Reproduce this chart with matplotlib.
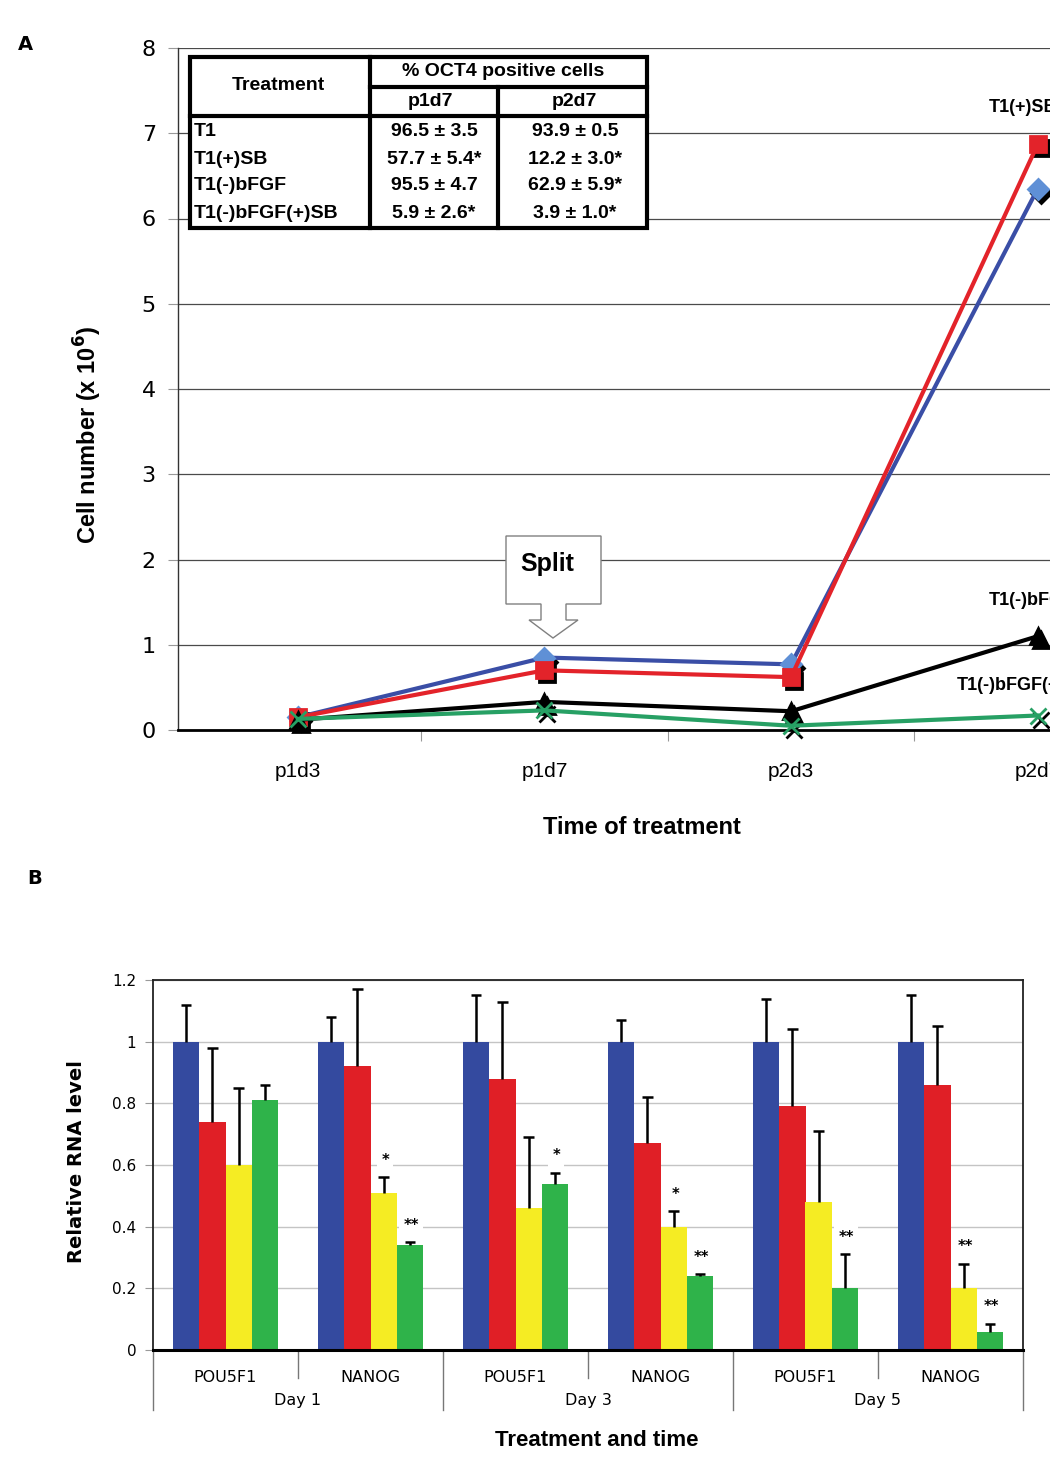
import numpy as np
import matplotlib
matplotlib.use('Agg')
import matplotlib.pyplot as plt
from matplotlib.lines import Line2D
from matplotlib.patches import Polygon, Rectangle
from matplotlib.transforms import offset_copy

# ---- Panel A data ----
time_points = ['p1d3', 'p1d7', 'p2d3', 'p2d7']
t1 = [0.15, 0.85, 0.77, 6.35]
t1_sb = [0.15, 0.70, 0.62, 6.87]
t1_nofgf = [0.12, 0.33, 0.22, 1.10]
t1_nofgf_sb = [0.13, 0.23, 0.05, 0.17]

table_treatments = ['T1', 'T1(+)SB', 'T1(-)bFGF', 'T1(-)bFGF(+)SB']
table_p1d7 = ['96.5 \u00b1 3.5', '57.7 \u00b1 5.4*', '95.5 \u00b1 4.7', '5.9 \u00b1 2.6*']
table_p2d7 = ['93.9 \u00b1 0.5', '12.2 \u00b1 3.0*', '62.9 \u00b1 5.9*', '3.9 \u00b1 1.0*']

# ---- Panel B data ----
genes = ['POU5F1', 'NANOG'] * 3
days = ['Day 1', 'Day 3', 'Day 5']
rna_blue = [1.0, 1.0, 1.0, 1.0, 1.0, 1.0]
rna_red = [0.74, 0.92, 0.88, 0.67, 0.79, 0.86]
rna_yellow = [0.60, 0.51, 0.46, 0.40, 0.48, 0.20]
rna_green = [0.81, 0.34, 0.54, 0.24, 0.20, 0.06]
err_blue = [0.12, 0.08, 0.15, 0.07, 0.14, 0.15]
err_red = [0.24, 0.25, 0.25, 0.15, 0.25, 0.19]
err_yellow = [0.25, 0.05, 0.23, 0.05, 0.23, 0.08]
err_green = [0.05, 0.01, 0.035, 0.005, 0.11, 0.025]
# (group, bar index, label)
stars = [(1, 2, '*'), (1, 3, '**'), (2, 3, '*'), (3, 2, '*'), (3, 3, '**'),
         (4, 3, '**'), (5, 2, '**'), (5, 3, '**')]

W, H = 1050, 1461
fig = plt.figure(figsize=(W / 100, H / 100), dpi=100)


def fx(x):
    return x / W


def fy(y):
    return 1 - y / H


ARIAL = 'Liberation Sans'
VERD = 'DejaVu Sans'

# ================= Panel A =================
ax = fig.add_axes([fx(178), fy(730), (1161 - 178) / W, (730 - 48) / H])
xs = np.arange(1, 5)
ax.set_xlim(0.514, 4.5)
ax.set_ylim(0, 8)

for s in ['top', 'right']:
    ax.spines[s].set_visible(False)
ax.spines['left'].set_color('#333333')
ax.spines['left'].set_linewidth(1.0)
ax.spines['bottom'].set_color('black')
ax.spines['bottom'].set_linewidth(2.0)
ax.yaxis.grid(True, color='#4a4a4a', lw=0.9)
ax.set_axisbelow(True)
ax.set_yticks(range(0, 9))
ax.tick_params(axis='y', length=7, color='#999999', pad=9, labelsize=16)
for lab in ax.get_yticklabels():
    lab.set_fontfamily(VERD)
ax.set_xticks([1.5, 2.5, 3.5])
ax.set_xticklabels([])
ax.set_xticks(xs, minor=True)
ax.set_xticklabels(time_points, minor=True, fontsize=15, family=ARIAL)
ax.tick_params(axis='x', which='major', length=8, color='#999999')
ax.tick_params(axis='x', which='minor', length=0, pad=23)

series = [
    (t1, '#3a4ea6', 'D', '#5f90d6', 10),
    (t1_sb, '#e3232a', 's', '#e3232a', 12),
    (t1_nofgf, 'black', '^', 'black', 11),
    (t1_nofgf_sb, '#27a064', 'x', '#27a064', 12),
]
shadow = offset_copy(ax.transData, fig=fig, x=3, y=-4, units='dots')
for vals, col, mk, mfc, ms in series:
    ax.plot(xs, vals, ls='none', marker=mk, ms=ms, color='black', mew=2,
            transform=shadow, clip_on=False, zorder=3)
for vals, col, mk, mfc, ms in series:
    ax.plot(xs, vals, color=col, lw=3, marker=mk, ms=ms, mfc=mfc, mec=mfc,
            mew=2, clip_on=False, zorder=4)

end_labels = [('T1(+)SB', 3.80, 7.30), ('T1(-)bFGF', 3.80, 1.52),
              ('T1(-)bFGF(+)SB', 3.67, 0.52)]
for txt, x, y in end_labels:
    ax.text(x, y, txt, fontsize=13, fontweight='bold', family=ARIAL,
            ha='left', va='center')

# table inset
tab_bg = Rectangle((fx(190), fy(228)), (647 - 190) / W, (228 - 57) / H,
                   transform=fig.transFigure, facecolor='white',
                   edgecolor='black', lw=3, zorder=5)
fig.add_artist(tab_bg)
tab_lines = [((370, 647), (87, 87)), ((190, 647), (116, 116)),
             ((370, 370), (57, 228)), ((498, 498), (87, 228))]
for (x0, x1), (y0, y1) in tab_lines:
    fig.add_artist(Line2D([fx(x0), fx(x1)], [fy(y0), fy(y1)], color='black',
                          lw=3, transform=fig.transFigure, zorder=6))
tkw = dict(fontsize=14, fontweight='bold', family=ARIAL,
           transform=fig.transFigure, zorder=7, va='center')
fig.text(fx(278), fy(85), 'Treatment', ha='center', **tkw)
fig.text(fx(503), fy(72), '% OCT4 positive cells', ha='center', **tkw)
fig.text(fx(430), fy(102), 'p1d7', ha='center', **tkw)
fig.text(fx(574), fy(102), 'p2d7', ha='center', **tkw)
for i, (nm, a, b) in enumerate(zip(table_treatments, table_p1d7, table_p2d7)):
    yy = 132 + i * 27
    fig.text(fx(194), fy(yy), nm, ha='left', **tkw)
    fig.text(fx(434), fy(yy), a, ha='center', **tkw)
    fig.text(fx(575), fy(yy), b, ha='center', **tkw)

# "Split" callout
callout = [(506, 536), (601, 536), (601, 604), (566, 604), (566, 620),
           (578, 620), (553, 638), (529, 620), (541, 620), (541, 604),
           (506, 604)]
fig.add_artist(Polygon([(fx(x), fy(y)) for x, y in callout], closed=True,
                       transform=fig.transFigure, facecolor='white',
                       edgecolor='#808080', lw=1.0, zorder=5))
fig.text(fx(547), fy(564), 'Split', ha='center', va='center', fontsize=18,
         fontweight='bold', family=ARIAL, zorder=6)

fig.text(fx(88), fy(435), r'Cell number (x 10$^{\mathbf{6}}$)', rotation=90,
         ha='center', va='center', fontsize=17, fontweight='bold', family=ARIAL)
fig.text(fx(642), fy(828), 'Time of treatment', ha='center', va='center',
         fontsize=17, fontweight='bold', family=ARIAL)
fig.text(fx(25), fy(44), 'A', ha='center', va='center', fontsize=14,
         fontweight='bold', family=VERD)

# ================= Panel B =================
bx = fig.add_axes([fx(153), fy(1350), 870 / W, 370 / H])
g = np.arange(6)
bw = 0.181
cap = 0.036
bar_sets = [(rna_blue, err_blue, '#344a9f'), (rna_red, err_red, '#e01f26'),
            (rna_yellow, err_yellow, '#f5ec23'), (rna_green, err_green, '#2fb34a')]
for k, (vals, errs, col) in enumerate(bar_sets):
    pos = g + (k - 1.5) * bw
    vals = np.array(vals)
    tops = vals + np.array(errs)
    bx.bar(pos, vals, width=bw, color=col, zorder=2)
    bx.vlines(pos, vals, tops, color='black', lw=1.8, zorder=3)
    bx.hlines(tops, pos - cap, pos + cap, color='black', lw=1.8, zorder=3)
for gi, k, lab in stars:
    vals, errs, _ = bar_sets[k]
    bx.text(gi + (k - 1.5) * bw + 0.01, vals[gi] + errs[gi] + 0.055, lab,
            ha='center', va='center', fontsize=10.5, fontweight='bold',
            family=VERD, zorder=4,
            bbox=dict(facecolor='white', edgecolor='none', pad=3))

bx.set_xlim(-0.5, 5.5)
bx.set_ylim(0, 1.2)
bx.set_yticks(np.arange(0, 1.21, 0.2))
bx.set_yticklabels(['{:g}'.format(round(v, 1)) for v in np.arange(0, 1.21, 0.2)],
                   family=VERD, fontsize=11)
bx.tick_params(axis='y', length=6, color='#999999', pad=6)
bx.set_xticks([])
bx.yaxis.grid(True, color='#c4c4c4', lw=1.0)
bx.set_axisbelow(True)
for s in ['top', 'right', 'left']:
    bx.spines[s].set_color('#222222')
    bx.spines[s].set_linewidth(1.3)
bx.spines['bottom'].set_color('black')
bx.spines['bottom'].set_linewidth(2.2)

xt = bx.get_xaxis_transform()
long_h = 60 / 370
short_h = 28 / 370
for xb in [-0.5, 1.5, 3.5, 5.5]:
    bx.plot([xb, xb], [0, -long_h], color='#777777', lw=1, transform=xt,
            clip_on=False)
for xb in [0.5, 2.5, 4.5]:
    bx.plot([xb, xb], [0, -short_h], color='#777777', lw=1, transform=xt,
            clip_on=False)
for gi, gene in enumerate(genes):
    bx.text(gi, -28 / 370, gene, transform=xt, ha='center', va='center',
            fontsize=11.5, family=VERD)
for di, day in enumerate(days):
    bx.text(2 * di + 0.5, -51 / 370, day, transform=xt, ha='center',
            va='center', fontsize=11.5, family=VERD)

fig.text(fx(77), fy(1162), 'Relative RNA level', rotation=90, ha='center',
         va='center', fontsize=14, fontweight='bold', family=VERD)
fig.text(fx(597), fy(1440), 'Treatment and time', ha='center', va='center',
         fontsize=16, fontweight='bold', family=ARIAL)
fig.text(fx(35), fy(879), 'B', ha='center', va='center', fontsize=14,
         fontweight='bold', family=VERD)

fig.savefig('out.png', dpi=100)
